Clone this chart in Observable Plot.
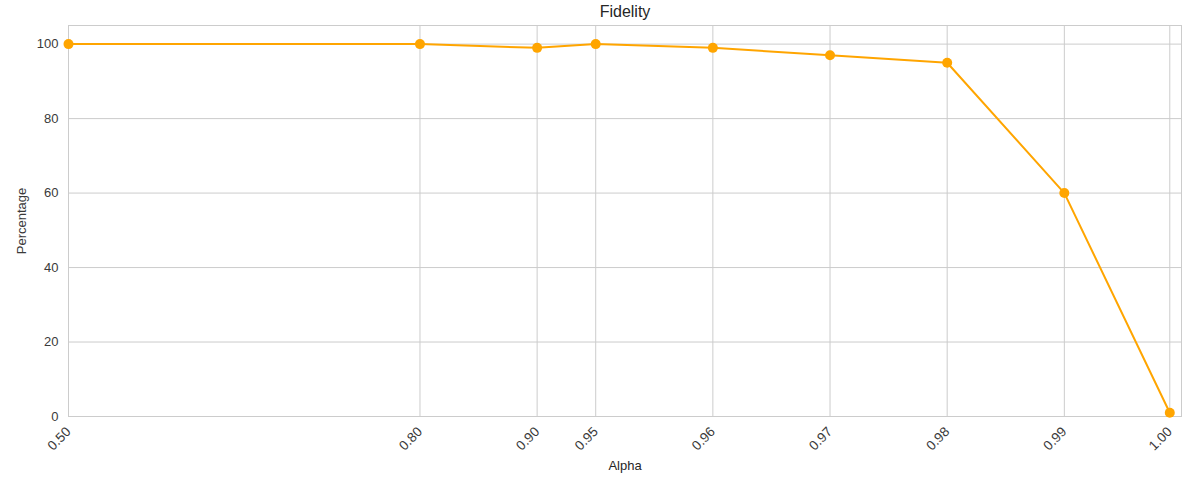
<!DOCTYPE html>
<html>
<head>
<meta charset="utf-8">
<script src="https://cdn.jsdelivr.net/npm/d3@7"></script>
<script src="https://cdn.jsdelivr.net/npm/@observablehq/plot@0.6"></script>
<style>
  html, body { margin: 0; padding: 0; background: #fff; }
  #chart svg { display: block; }
</style>
</head>
<body>
<div id="chart"></div>
<script>
const alphas = [0.50, 0.80, 0.90, 0.95, 0.96, 0.97, 0.98, 0.99, 1.00];
const fidelity = [100, 100, 99, 100, 99, 97, 95, 60, 1];
const yTicks = [0, 20, 40, 60, 80, 100];
const titleText = "Fidelity";
const xLabel = "Alpha";
const yLabel = "Percentage";

const data = alphas.map((a, i) => ({alpha: a, value: fidelity[i]}));

const W = 1196, H = 489;
const mL = 68, mR = 15, mT = 25, mB = 73;
// uneven (categorical-like) spacing of alpha values along the axis
const slots = [0, 3, 4, 4.5, 5.5, 6.5, 7.5, 8.5, 9.4];
const slotMax = 9.5;
const xRange = slots.map(s => mL + s / slotMax * (W - mL - mR));

const font = "'Liberation Sans', Arial, sans-serif";

const chart = Plot.plot({
  width: W,
  height: H,
  marginLeft: mL,
  marginRight: mR,
  marginTop: mT,
  marginBottom: mB,
  style: {fontFamily: font, fontSize: "13px", color: "#3a3a3a", background: "#fff"},
  x: {type: "linear", domain: alphas, range: xRange},
  y: {domain: [0, 105]},
  marks: [
    Plot.gridY(yTicks, {stroke: "#cccccc", strokeOpacity: 1, strokeWidth: 1}),
    Plot.gridX(alphas, {stroke: "#cccccc", strokeOpacity: 1, strokeWidth: 1}),
    Plot.frame({stroke: "#cccccc", strokeWidth: 1}),
    Plot.axisY(yTicks, {tickSize: 0, tickPadding: 10, fontSize: 13, label: yLabel, labelAnchor: "center", labelArrow: "none", labelOffset: 52}),
    Plot.axisX(alphas, {tickSize: 0, tickPadding: 13, tickFormat: d3.format(".2f"), tickRotate: -45, fontSize: 13.5, label: null}),
    Plot.text([xLabel], {frameAnchor: "bottom", dy: 53, fontSize: 13, fill: "#262626"}),
    Plot.text([titleText], {frameAnchor: "top", dy: -20, fontSize: 16, fill: "#262626"}),
    Plot.line(data, {x: "alpha", y: "value", stroke: "#FFA500", strokeWidth: 2}),
    Plot.dot(data, {x: "alpha", y: "value", fill: "#FFA500", r: 5})
  ]
});
document.getElementById("chart").appendChild(chart);
</script>
</body>
</html>
